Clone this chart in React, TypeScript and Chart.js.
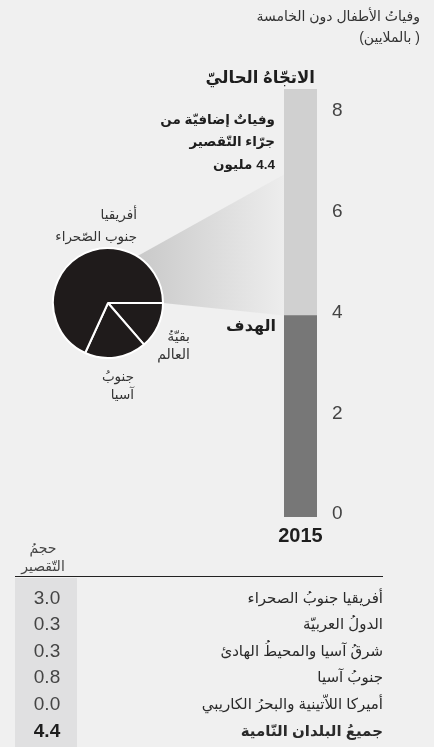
import React, { useEffect, useRef } from "react";
import { Chart, registerables } from "chart.js";
Chart.register(...registerables);

// ---- data ----
const YEAR = ["2015"];
const TARGET = [4];
const EXCESS = [4.5];
const Y_TICKS = [0, 2, 4, 6, 8];
const Y_MAX = 8.5;
const WEDGE_TOP = 6.8;
const PIE_LABELS = ["بقيّةُ العالم", "جنوبُ آسيا", "أفريقيا جنوب الصّحراء"];
const PIE_VALUES = [0.6, 0.8, 3.0];
const ROW_LABELS = [
  "أفريقيا جنوبُ الصحراء",
  "الدولُ العربيّة",
  "شرقُ آسيا والمحيطُ الهادئ",
  "جنوبُ آسيا",
  "أميركا اللاّتينية والبحرُ الكاريبي",
  "جميعُ البلدان النّامية",
];
const ROW_VALUES = [3.0, 0.3, 0.3, 0.8, 0.0, 4.4];

// ---- layout ----
const W = 434;
const H = 747;
const PIE_CX = 108;
const PIE_CY = 303;
const PIE_R = 55;
const AR = '"Liberation Sans", "DejaVu Sans", sans-serif';
const NUM = '"Liberation Sans Narrow", "Liberation Sans", sans-serif';

type TProps = {
  x: number;
  y: number;
  text: string;
  size?: number;
  bold?: boolean;
  lh?: number;
  align?: "right" | "center";
  color?: string;
  font?: string;
};

function T({ x, y, text, size = 13, bold = false, lh, align = "right", color = "#2a2a2a", font = AR }: TProps) {
  const lineH = lh ?? Math.round(size * 1.5);
  const style: React.CSSProperties = {
    position: "absolute",
    top: y - lineH / 2,
    fontFamily: font,
    fontSize: size,
    fontWeight: bold ? 700 : 400,
    lineHeight: lineH + "px",
    color,
    whiteSpace: "pre-line",
    direction: "rtl",
  };
  if (align === "right") {
    style.right = W - x;
    style.textAlign = "right";
  } else {
    style.left = x - 100;
    style.width = 200;
    style.textAlign = "center";
  }
  return <div style={style}>{text}</div>;
}

export default function App() {
  const barRef = useRef<HTMLCanvasElement>(null);
  const pieRef = useRef<HTMLCanvasElement>(null);

  useEffect(() => {
    const wedge = {
      id: "wedge",
      beforeDatasetsDraw(chart: any) {
        const meta = chart.getDatasetMeta(0);
        const bar = meta.data[0];
        const bx = bar.x - bar.width / 2;
        const ys = chart.scales.y;
        const yTop = ys.getPixelForValue(WEDGE_TOP);
        const yBot = ys.getPixelForValue(TARGET[0]);
        const a1 = (-58 * Math.PI) / 180;
        const a2 = 0;
        const ctx = chart.ctx;
        ctx.save();
        const g = ctx.createLinearGradient(PIE_CX + PIE_R * Math.cos(a1), 0, bx, 0);
        g.addColorStop(0, "#c9c9c9");
        g.addColorStop(1, "#ededed");
        ctx.fillStyle = g;
        ctx.beginPath();
        ctx.moveTo(PIE_CX + PIE_R * Math.cos(a1), PIE_CY + PIE_R * Math.sin(a1));
        ctx.lineTo(bx, yTop);
        ctx.lineTo(bx, yBot);
        ctx.lineTo(PIE_CX + PIE_R * Math.cos(a2), PIE_CY + PIE_R * Math.sin(a2));
        ctx.closePath();
        ctx.fill();
        ctx.restore();
      },
    };

    const bar = new Chart(barRef.current!, {
      type: "bar",
      data: {
        labels: YEAR,
        datasets: [
          { data: TARGET, backgroundColor: "#777777", barPercentage: 1, categoryPercentage: 1, borderWidth: 0 },
          { data: EXCESS, backgroundColor: "#d0d0d0", barPercentage: 1, categoryPercentage: 1, borderWidth: 0 },
        ],
      },
      options: {
        responsive: false,
        animation: false,
        devicePixelRatio: 1,
        layout: { padding: { left: 284, right: W - 317 - 40, top: 89, bottom: H - 517 } },
        plugins: { legend: { display: false }, tooltip: { enabled: false } },
        scales: {
          x: { display: false, stacked: true, grid: { display: false } },
          y: {
            stacked: true,
            position: "right",
            min: 0,
            max: Y_MAX,
            grid: { display: false, drawTicks: false },
            border: { display: false },
            afterBuildTicks: (s: any) => {
              s.ticks = Y_TICKS.map((v) => ({ value: v }));
            },
            afterFit: (s: any) => {
              s.width = 40;
            },
            ticks: {
              padding: 15,
              labelOffset: -3,
              color: "#444",
              font: { family: NUM, size: 19 },
            },
          },
        },
      },
      plugins: [wedge],
    } as any);

    const pie = new Chart(pieRef.current!, {
      type: "pie",
      data: {
        labels: PIE_LABELS,
        datasets: [
          {
            data: PIE_VALUES,
            backgroundColor: "#1f1b1b",
            borderColor: "#ffffff",
            borderWidth: 2,
            radius: PIE_R,
          },
        ],
      },
      options: {
        responsive: false,
        animation: false,
        devicePixelRatio: 1,
        rotation: 90,
        layout: { padding: 0 },
        plugins: { legend: { display: false }, tooltip: { enabled: false } },
      },
    } as any);

    return () => {
      bar.destroy();
      pie.destroy();
    };
  }, []);

  const rowY0 = 597;
  const rowStep = 26.6;

  return (
    <div style={{ position: "absolute", left: 0, top: 0, width: W, height: H, background: "#f0f0f0", overflow: "hidden" }}>
      {/* table column background */}
      <div style={{ position: "absolute", left: 15, top: 578, width: 62, height: H - 578, background: "#e0e0e1" }} />
      <div style={{ position: "absolute", left: 15, top: 576, width: 368, height: 1.3, background: "#222" }} />
      <canvas ref={barRef} width={W} height={H} style={{ position: "absolute", left: 0, top: 0, width: W, height: H }} />
      <canvas
        ref={pieRef}
        width={120}
        height={120}
        style={{ position: "absolute", left: PIE_CX - 60, top: PIE_CY - 60, width: 120, height: 120 }}
      />

      <T x={420} y={16} text={"وفياتُ الأطفال دون الخامسة\n( بالملايين)"} size={14} lh={21} color="#333" />
      <T x={315} y={77} text={"الاتجّاهُ الحاليّ"} size={16.5} bold color="#1e1e1e" />
      <T x={275} y={120} text={"وفياتٌ إضافيّة من\nجرّاء التّقصير\n4.4 مليون"} size={13.5} bold lh={22.5} color="#1e1e1e" />
      <T x={276} y={326} text={"الهدف"} size={16} bold color="#1e1e1e" />
      <T x={137} y={215} text={"أفريقيا\nجنوب الصّحراء"} size={13.5} lh={22} color="#333" />
      <T x={190} y={336} text={"بقيّةُ\nالعالم"} size={14} lh={18} color="#333" />
      <T x={134} y={377} text={"جنوبُ\nآسيا"} size={13.5} lh={18} color="#333" />
      <T x={300.5} y={535} text={YEAR[0]} size={20} bold align="center" color="#1e1e1e" font={NUM} />
      <T x={43} y={548} text={"حجمُ\nالتّقصير"} size={14} lh={18} align="center" color="#444" />

      {ROW_VALUES.map((v, i) => {
        const last = i === ROW_VALUES.length - 1;
        return (
          <React.Fragment key={i}>
            <T
              x={47}
              y={rowY0 + i * rowStep}
              text={v.toFixed(1)}
              size={19}
              bold={last}
              align="center"
              color={last ? "#1e1e1e" : "#444"}
              font={NUM}
            />
            <T x={383} y={rowY0 + i * rowStep} text={ROW_LABELS[i]} size={15} bold={last} color="#2a2a2a" />
          </React.Fragment>
        );
      })}
    </div>
  );
}
